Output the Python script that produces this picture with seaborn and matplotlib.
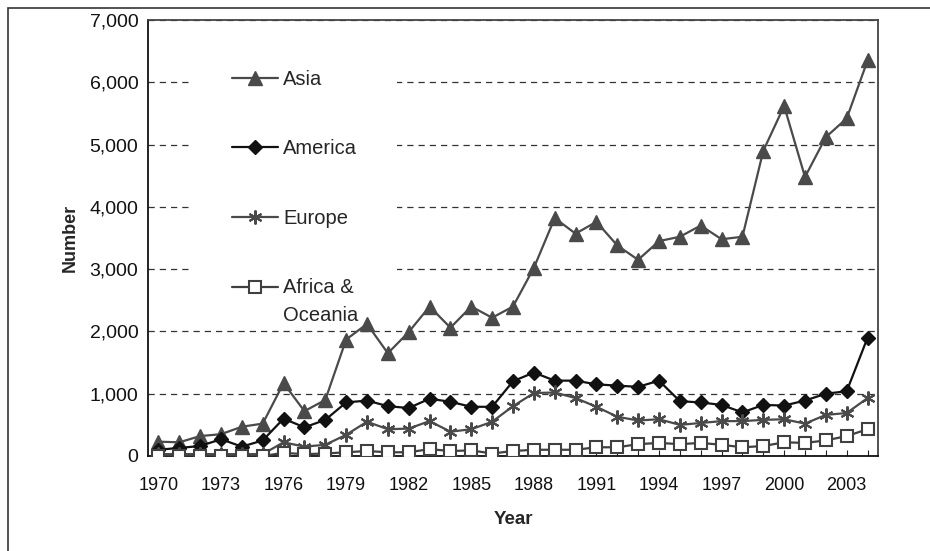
import pandas as pd
import numpy as np
import seaborn as sns
import matplotlib.pyplot as plt
from matplotlib.patches import Rectangle
from matplotlib.ticker import FuncFormatter, MultipleLocator

years = list(range(1970, 2005))
asia = [230, 220, 320, 350, 470, 520, 1170, 720, 900, 1870, 2120, 1650, 1990, 2400, 2060,
        2400, 2220, 2400, 3020, 3820, 3570, 3760, 3380, 3150, 3450, 3520, 3700, 3480, 3520,
        4900, 5620, 4480, 5120, 5420, 6350]
america = [100, 130, 160, 270, 150, 250, 600, 460, 580, 860, 890, 800, 770, 920, 870,
           790, 790, 1200, 1340, 1210, 1210, 1150, 1130, 1110, 1210, 880, 860, 820, 700,
           820, 810, 890, 1000, 1040, 1900]
europe = [30, 30, 30, 30, 30, 30, 220, 150, 180, 340, 550, 430, 440, 560, 390,
          430, 550, 800, 1010, 1020, 930, 790, 630, 570, 590, 500, 530, 560, 560,
          580, 590, 520, 660, 690, 930]
africa = [0, 0, 0, 0, 0, 0, 50, 30, 40, 60, 80, 60, 60, 110, 80,
          90, 40, 80, 100, 100, 100, 140, 140, 190, 210, 190, 210, 180, 140,
          160, 220, 210, 250, 320, 430]

df = pd.DataFrame({'Year': years, 'Asia': asia, 'America': america,
                   'Europe': europe, 'Africa &\nOceania': africa})
long = df.melt(id_vars='Year', var_name='Region', value_name='Number')

sns.set_style('white')
plt.rcParams['font.family'] = ['Liberation Sans', 'DejaVu Sans']

fig = plt.figure(figsize=(9.3, 5.51), dpi=100)
ax = fig.add_axes([148/930, 95/551, 730/930, 436/551])

styles = {
    'Asia': dict(color='#4a4a4a', marker='^', markersize=10, mfc='#4a4a4a', mec='#4a4a4a'),
    'America': dict(color='#111111', marker='D', markersize=7.5, mfc='#111111', mec='#111111'),
    'Europe': dict(color='#4a4a4a', marker=(6, 2, 0), markersize=10, mfc='none', mec='#4a4a4a', mew=1.5),
    'Africa &\nOceania': dict(color='#404040', marker='s', markersize=8, mfc='white', mec='#404040', mew=1.5),
}

for name, st in styles.items():
    sub = long[long['Region'] == name]
    sns.lineplot(data=sub, x='Year', y='Number', ax=ax, label=name, lw=1.6,
                 color=st['color'], marker=st['marker'], markersize=st['markersize'],
                 markerfacecolor=st['mfc'], markeredgecolor=st['mec'],
                 markeredgewidth=st.get('mew', 1.0), zorder=3)

ax.set_xlim(1969.5, 2004.5)
ax.set_ylim(0, 7000)
ax.set_xticks(range(1970, 2004, 3))
ax.xaxis.set_minor_locator(MultipleLocator(1))
ax.yaxis.set_major_locator(MultipleLocator(1000))
ax.yaxis.set_major_formatter(FuncFormatter(lambda v, p: f'{int(v):,}'))
ax.tick_params(axis='x', which='both', direction='in', length=4, width=0.8,
               colors='#222222', labelsize=13, pad=15, bottom=True)
ax.tick_params(axis='y', length=0, labelsize=14, pad=7, labelcolor='#111111')
for t in ax.get_xticklabels():
    t.set_color('#111111')

ax.set_axisbelow(True)
ax.grid(axis='y', linestyle=(0, (5, 4)), color='#333333', lw=0.9)
for sp in ax.spines.values():
    sp.set_visible(True)
    sp.set_color('#444444')
    sp.set_linewidth(1.3)
ax.spines['left'].set_color('#111111')
ax.spines['bottom'].set_color('#111111')

ax.set_xlabel('Year', fontsize=13.5, fontweight='bold', labelpad=12)
ax.set_ylabel('Number', fontsize=13, fontweight='bold', labelpad=8)

# white area behind legend hides the gridlines
ax.add_patch(Rectangle((0.060, 0.289), 0.281, 0.62, transform=ax.transAxes,
                       facecolor='white', edgecolor='none', zorder=1))

leg = ax.legend(loc='upper left', bbox_to_anchor=(0.115, 0.885), frameon=False,
                fontsize=14.5, handlelength=2.3, handletextpad=0.25, labelspacing=2.5,
                borderpad=0, borderaxespad=0)
leg.get_texts()[-1].set_linespacing(1.6)

# put the last handle next to the first line of its two-line label
fig.canvas.draw()
last = leg.legend_handles[-1]
txt = leg.get_texts()[-1]
bb = txt.get_window_extent()
shift = bb.height * 0.32 * 72 / fig.dpi
last.set_ydata(np.asarray(last.get_ydata()) + shift)

fig.patches.append(Rectangle((8/930, -0.5), 2.0, (551-8)/551 + 0.5,
                             transform=fig.transFigure, fill=False,
                             edgecolor='#333333', lw=1.2))

fig.savefig('out.png', dpi=100)
